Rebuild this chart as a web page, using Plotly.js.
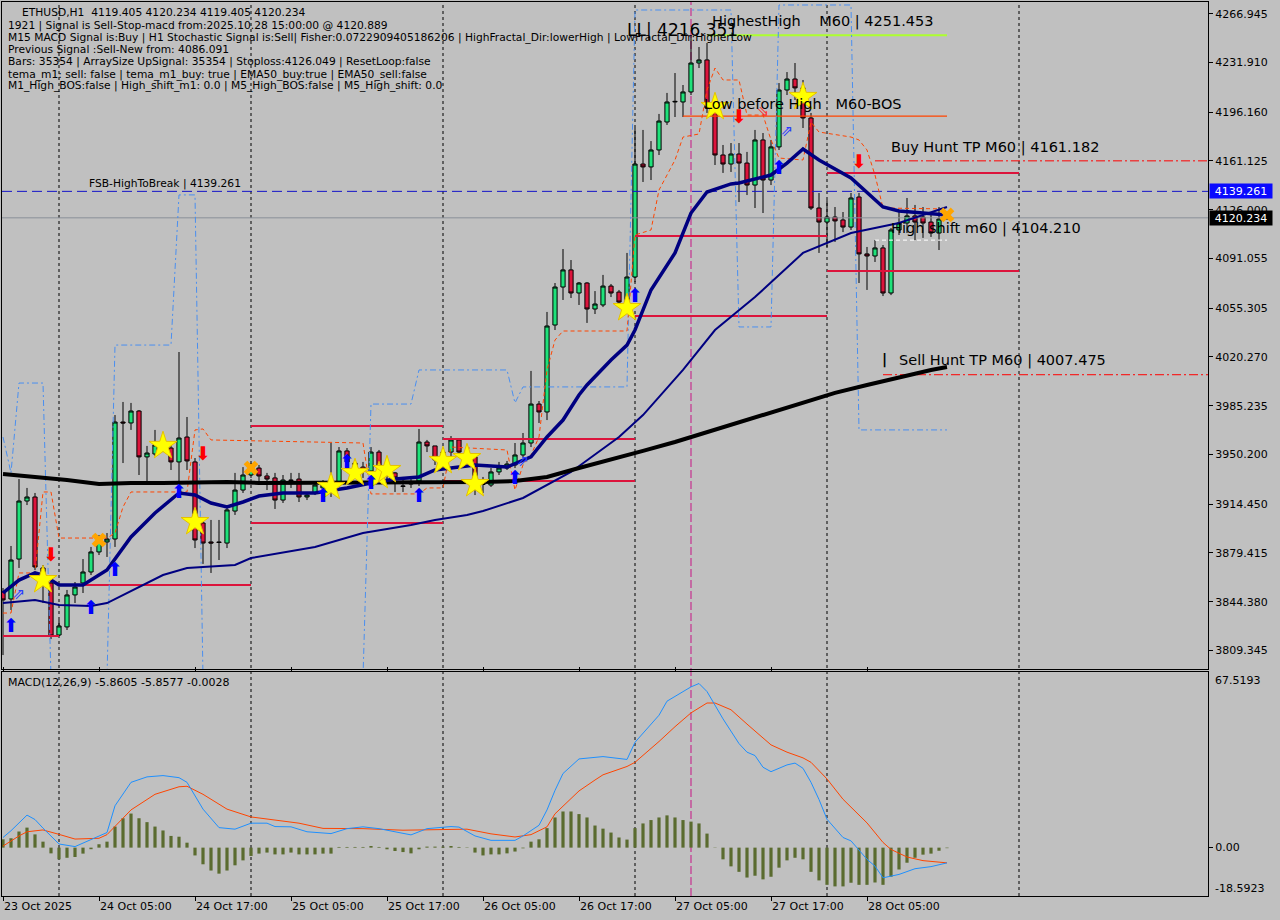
<!DOCTYPE html>
<html><head><meta charset="utf-8">
<script src="https://cdn.plot.ly/plotly-3.0.1.min.js"></script>
<style>html,body{margin:0;padding:0;background:#c0c0c0;}#chart{width:1280px;height:920px;}</style>
</head><body><div id="chart"></div>
<script>
// ---------- price data (ETHUSD H1, bar 0 = 23 Oct 2025 17:00) ----------
const openP = [3851.3,3846.3,3875.0,3916.7,3919.6,3868.6,3857.8,3820.4,3826.2,3849.2,3857.8,3865.7,3880.1,3887.3,3889.4,3973.5,3972.8,3981.4,3948.4,3950.5,3954.8,3954.8,3944.8,3962.7,3944.8,3900.9,3887.3,3887.3,3886.5,3909.5,3924.6,3935.4,3940.4,3934.7,3933.3,3917.4,3931.8,3932.5,3919.6,3922.5,3926.1,3924.6,3930.4,3952.7,3938.3,3941.1,3938.3,3951.9,3935.4,3936.9,3927.5,3928.9,3931.1,3959.1,3956.3,3944.8,3951.9,3960.6,3951.9,3948.4,3928.9,3928.2,3937.6,3940.4,3942.6,3949.8,3958.4,3986.4,3980.7,4043.2,4070.5,4082.8,4066.2,4073.4,4054.7,4057.6,4071.2,4066.9,4059.7,4077.7,4158.9,4156.8,4169.0,4189.1,4203.5,4203.5,4210.7,4231.5,4233.7,4199.2,4165.4,4158.9,4166.1,4159.6,4143.8,4176.2,4147.4,4171.2,4212.1,4220.0,4213.6,4192.0,4127.3,4117.2,4120.8,4118.7,4113.6,4135.2,4094.3,4092.8,4098.6,4066.2,4111.5,4116.5,4121.6,4120.8,4117.2,4109.3,4119.405];
const highP = [3854.2,3884.4,3932.5,3926.1,3922.5,3870.7,3859.9,3831.2,3852.8,3858.5,3875.0,3883.7,3892.3,3893.7,3978.5,3987.9,3987.2,3982.1,3956.3,3967.8,3963.4,3957.0,4023.8,3977.1,3947.6,3903.1,3903.1,3903.1,3913.8,3936.9,3941.1,3944.0,3942.6,3936.9,3936.9,3935.4,3936.9,3936.9,3923.2,3931.1,3931.8,3958.4,3955.5,3954.8,3946.2,3944.8,3955.5,3953.4,3944.8,3937.6,3934.0,3933.3,3968.5,3960.6,3956.3,3954.8,3963.4,3962.0,3954.8,3949.8,3934.0,3940.4,3944.8,3945.5,3958.4,3965.6,4010.2,3988.6,4052.6,4073.4,4097.8,4089.9,4074.1,4074.0,4067.6,4079.2,4072.7,4068.4,4095.0,4184.8,4183.4,4175.4,4194.9,4210.0,4224.3,4215.7,4251.5,4243.0,4245.9,4200.6,4172.6,4174.0,4174.0,4167.6,4183.4,4181.2,4176.2,4217.1,4225.0,4231.5,4219.3,4195.6,4138.1,4133.0,4128.0,4124.4,4138.1,4138.1,4099.3,4104.3,4100.7,4112.9,4124.4,4134.5,4129.5,4128.0,4122.3,4128.0,4120.234];
const lowP = [3806.0,3838.4,3868.6,3913.8,3867.1,3843.4,3817.5,3819.7,3824.0,3843.4,3850.6,3863.5,3877.9,3876.5,3883.7,3944.0,3967.8,3935.4,3930.4,3949.1,3951.9,3939.0,3924.6,3939.0,3882.9,3871.5,3865.0,3874.3,3882.9,3906.7,3922.5,3933.3,3930.4,3924.6,3911.0,3915.3,3926.1,3916.0,3917.4,3921.0,3923.2,3919.6,3928.2,3939.0,3933.3,3933.3,3936.1,3937.6,3931.8,3923.2,3923.2,3926.1,3927.5,3951.9,3942.6,3940.4,3948.4,3947.6,3944.8,3921.0,3922.5,3926.8,3935.4,3939.0,3940.4,3947.6,3955.5,3972.8,3974.9,4039.6,4061.2,4062.6,4057.6,4044.7,4051.1,4056.1,4063.3,4056.1,4056.1,4074.1,4146.0,4147.4,4165.4,4187.0,4192.7,4192.7,4208.5,4227.9,4195.6,4158.2,4152.5,4153.2,4131.6,4136.6,4127.3,4123.7,4143.8,4169.0,4208.5,4204.9,4184.8,4125.9,4095.0,4099.3,4102.9,4110.0,4111.5,4073.4,4068.4,4088.5,4064.0,4064.7,4107.9,4109.3,4104.3,4105.8,4106.5,4097.1,4119.405];
const closeP = [3845.6,3874.3,3916.7,3919.6,3869.3,3865.0,3819.7,3826.9,3849.2,3854.9,3865.7,3880.1,3888.7,3889.4,3973.5,3972.8,3981.4,3948.4,3951.2,3957.0,3960.6,3944.8,3962.0,3945.5,3888.7,3886.5,3886.5,3886.9,3910.3,3924.6,3935.4,3939.7,3934.7,3932.5,3917.4,3931.8,3931.5,3919.6,3921.0,3928.2,3928.2,3929.7,3952.7,3944.8,3944.0,3938.3,3951.9,3941.9,3940.4,3933.3,3927.3,3930.4,3959.1,3956.3,3946.2,3951.9,3960.6,3951.9,3948.4,3931.8,3928.7,3937.6,3940.4,3943.3,3949.8,3958.4,3986.4,3980.7,4042.5,4070.5,4082.8,4066.2,4073.4,4054.7,4058.3,4071.2,4066.2,4059.7,4077.7,4158.9,4156.8,4169.0,4189.8,4203.5,4203.9,4210.7,4231.5,4233.7,4199.2,4165.4,4158.9,4166.1,4159.6,4143.8,4176.2,4147.4,4171.2,4212.1,4220.0,4213.6,4192.0,4127.3,4117.2,4120.8,4118.0,4113.6,4134.5,4094.3,4092.8,4098.6,4066.2,4111.5,4116.5,4121.6,4117.2,4116.5,4109.3,4119.4,4120.234];

// ---------- axis labels ----------
const xTickBars = [0,12,24,36,48,60,72,84,96,108];
const xTickText = ['23 Oct 2025','24 Oct 05:00','24 Oct 17:00','25 Oct 05:00','25 Oct 17:00','26 Oct 05:00','26 Oct 17:00','27 Oct 05:00','27 Oct 17:00','28 Oct 05:00'];
const daySepBars = [7,31,55,79,103,127];
const markBar = 86;
const yTickVals = [4266.945,4231.910,4196.160,4161.125,4126.000,4091.055,4055.305,4020.270,3985.235,3950.200,3914.450,3879.415,3844.380,3809.345];

// ---------- moving averages / bands ----------
const ema200Bars = [0,4,8,12,16,20,24,28,32,36,40,44,48,52,56,60,64,68,72,76,80,84,88,92,96,100,104,108,112,116,118];
const ema200 = [3936.1,3934.0,3931.8,3928.9,3929.7,3929.7,3930.4,3930.4,3929.7,3929.7,3929.7,3929.7,3929.7,3929.7,3930.4,3930.4,3931.1,3934.0,3940.4,3946.2,3952.7,3959.1,3966.3,3973.5,3980.7,3987.9,3994.4,4000.1,4005.8,4010.9,4013.0];
const fastBars = [0,2,4,5,7,10,13,16,19,22,24,26,28,30,32,35,39,43,46,49,52,54,57,59,63,66,68,70,72,73,76,78,79,80,81,84,86,88,91,92,96,98,100,102,106,110,112,115,118];
const fastMA = [3850.6,3859.9,3865.0,3863.5,3856.4,3856.4,3867.1,3890.9,3908.1,3922.5,3921.0,3915.3,3912.4,3916.0,3920.3,3922.5,3922.5,3926.1,3929.7,3932.5,3934.0,3939.0,3941.1,3942.6,3941.1,3948.4,3962.7,3974.9,3992.9,4000.1,4018.1,4028.8,4039.6,4054.0,4068.4,4095.0,4123.7,4138.8,4144.6,4145.3,4151.0,4159.6,4169.7,4161.8,4148.9,4128.0,4125.1,4123.7,4122.3];
const slowBars = [0,4,7,11,13,17,20,23,29,31,37,39,45,51,54,58,60,65,71,77,80,85,89,94,100,106,112,118];
const slowMA = [3843.4,3845.6,3842.0,3841.3,3843.4,3854.9,3863.5,3868.6,3870.7,3875.7,3881.5,3883.7,3893.7,3899.5,3903.1,3906.7,3909.5,3918.9,3937.6,3962.7,3978.5,4010.9,4039.6,4063.3,4095.0,4109.3,4116.5,4128.0];
const bandBars = [0,1,2,4,5,6,7,13,14,15,16,23,24,25,26,45,46,52,53,55,56,63,64,65,66,67,68,69,70,78,79,81,82,83,84,85,87,88,89,90,92,93,95,96,97,100,101,102,106,107,108,109,110,118];
const bandVals = [3836.2,3836.2,3865.0,3865.0,3923.2,3923.2,3890.1,3890.1,3893.7,3912.4,3923.2,3923.2,3967.8,3968.5,3960.6,3958.4,3921.8,3921.8,3926.1,3926.1,3955.5,3953.4,3924.6,3942.6,3949.8,3962.7,4010.9,4032.4,4038.9,4038.9,4107.9,4111.5,4140.2,4151.0,4161.8,4178.3,4180.5,4212.1,4227.9,4219.3,4219.3,4194.1,4194.1,4176.2,4163.2,4161.8,4189.1,4181.9,4178.3,4176.2,4169.0,4151.0,4127.3,4126.6];
const chanBars = [0,1,2,5,6,13,14,21,22,24,25,45,46,51,52,63,64,65,78,79,91,92,96,97,106,107,118];
const chanVals = [3962.7,3936.9,4001.5,4001.5,3790,3790,4028.8,4028.8,4136.7,4136.7,3790,3790,3986.4,3986.4,4010.9,4010.9,3987.2,3998.7,3998.7,4269.6,4269.6,4041.8,4041.8,4273.2,4273.2,3967.8,3967.8];

// ---------- daily levels ----------
const levelStart = [0,7,31,31,55,55,79,79,103,103];
const levelEnd = [7,31,55,55,79,79,103,103,127,127];
const levelValue = [3819.7,3856.4,3970.6,3900.9,3961.3,3931.1,4107.2,4049.7,4152.5,4082.0];

// ---------- signal levels ----------
const fsbLevel = 4139.261, lastPrice = 4120.234, buyTP = 4161.182, sellTP = 4007.475;
const highestHigh = 4251.453, lowBeforeHigh = 4193.4, highShift = 4104.210;

// ---------- signal markers ----------
const starBars = [5,20,24,41,44,47,48,55,58,59,78,89,100];
const starPrice = [3859.9,3956.3,3901.6,3926.8,3936.9,3934.7,3939.0,3945.5,3947.6,3928.9,4055.4,4199.9,4207.1];
const upBars = [1,11,14,22,40,43,46,52,64,79,97];
const upPrice = [3826.2,3839.1,3866.4,3922.5,3919.6,3944.0,3928.9,3919.6,3932.5,4063.3,4155.3];
const downBars = [6,25,92,107];
const downPrice = [3877.2,3949.8,4192.0,4159.6];
const crossBars = [12,31,118];
const crossPrice = [3888.7,3940.4,4122.3];
const hollowUpBars = [2,65,98];
const hollowUpPrice = [3849.2,3944.8,4181.9];
const hollowDnBars = [95];
const hollowDnPrice = [4196.3];

// ---------- MACD(12,26,9) ----------
const macdHist = [3.2,3.6,6.2,7.7,5.1,2.3,-2.2,-4.5,-3.9,-3.6,-2.3,-0.6,1.3,2.3,8.1,11.3,13.1,11.3,9.8,8.1,6.6,4.5,4.2,1.9,-3.0,-6.4,-8.8,-10.0,-8.8,-6.8,-4.9,-3.2,-2.3,-1.9,-2.6,-2.6,-1.9,-2.6,-2.6,-2.6,-2.3,-2.3,0.26,0.26,0.26,0.26,0.64,0.26,-0.64,-1.3,-1.7,-2.2,-0.64,0.39,0.39,0.39,0.64,0.26,0.13,-1.9,-3.0,-2.6,-2.6,-2.2,-1.5,-0.26,2.3,3.2,7.5,11.6,13.9,13.9,12.9,11.6,8.5,7.3,5.8,3.9,3.1,7.5,9.3,10.6,11.6,12.4,11.6,10.6,10.0,9.3,5.4,-0.1,-4.5,-7.2,-9.3,-11.5,-10.8,-12.2,-11.2,-7.7,-4.9,-3.9,-4.5,-9.3,-12.6,-14.3,-14.9,-14.9,-13.5,-14.3,-14.3,-13.4,-14.3,-11.2,-8.4,-5.8,-3.9,-2.7,-2.3,-1.2,-0.2];
const macdBars = [0,1,3,4,5,7,9,11,13,14,16,18,20,22,23,25,27,29,31,33,34,36,38,41,43,45,47,50,51,53,56,57,59,61,64,65,67,68,69,70,72,75,78,79,82,83,85,86,87,88,90,92,93,94,95,96,98,99,100,101,102,103,105,106,108,109,110,112,114,116,118];
const macdMain = [3.9,6.5,12.5,10.8,7.5,1.4,0.4,3.0,5.8,16.1,25.1,27.2,27.7,26.9,25.1,14.8,7.7,7.1,9.4,9.4,8.1,8.0,6.1,5.4,7.3,8.0,7.3,5.5,4.9,7.3,8.1,7.9,4.5,2.8,2.8,4.5,8.6,14.5,22.0,28.5,34.1,35.0,33.9,40.5,50.9,56.3,59.9,61.8,63.1,60.0,49.5,40.0,36.7,35.4,30.9,29.2,31.8,32.5,30.5,25.1,18.5,10.9,3.9,2.6,-4.5,-7.1,-11.6,-10.3,-8.1,-7.3,-5.8605];
const sigBars = [0,2,3,5,7,9,12,13,16,19,22,23,25,28,31,34,37,40,45,50,55,58,61,64,66,68,69,72,74,75,78,79,82,84,86,88,89,91,93,96,98,100,101,103,105,108,110,111,113,115,118];
const macdSignal = [0.6,4.5,6.1,6.8,5.1,3.3,3.6,5.0,14.5,20.5,23.4,23.6,20.5,14.8,11.8,10.7,9.4,7.4,7.3,6.7,7.1,7.1,5.3,4.1,5.0,8.0,13.0,21.8,26.0,28.0,31.2,32.8,40.8,46.5,51.8,55.6,55.6,53.0,47.5,39.5,36.7,34.5,32.8,26.4,18.6,9.5,2.0,-0.7,-3.6,-5.0,-5.8577];
const macdLastHist = -0.0028;
const macdMax = 67.5193, macdMin = -18.5923;

// ================= build =================
const FONT = 'DejaVu Sans';
const bars = openP.map((_, i) => i);
const XMAX = 151;
const W = 1280, H = 920, ML = 2, MR = 72, MT = 2, MB = 24;
const PW = W - ML - MR, PH = H - MT - MB;
const px = (x) => (x - ML) / PW;
const py = (y) => (H - MB - y) / PH;

function hline(x0, x1, v) { return {x: [x0, x1], y: [v, v]}; }
const traces = [];

traces.push({
  type: 'candlestick', x: bars, open: openP, high: highP, low: lowP, close: closeP,
  increasing: {line: {color: '#000000', width: 1}, fillcolor: '#1fe27a'},
  decreasing: {line: {color: '#000000', width: 1}, fillcolor: '#dc143c'},
  whiskerwidth: 0, hoverinfo: 'skip', showlegend: false, xaxis: 'x', yaxis: 'y'
});

// daily levels
const lvX = [], lvY = [];
levelStart.forEach((s, i) => { lvX.push(s, levelEnd[i], null); lvY.push(levelValue[i], levelValue[i], null); });
traces.push({type: 'scatter', mode: 'lines', x: lvX, y: lvY, line: {color: '#dc143c', width: 2}, hoverinfo: 'skip', xaxis: 'x', yaxis: 'y'});

// signal lines
const addLine = (seg, color, width, dash) => traces.push({type: 'scatter', mode: 'lines', x: seg.x, y: seg.y, line: {color: color, width: width, dash: dash}, hoverinfo: 'skip', xaxis: 'x', yaxis: 'y'});
addLine(hline(-2, XMAX, lastPrice), '#8a9099', 1, 'solid');
addLine(hline(-2, XMAX, fsbLevel), '#1414c8', 1, '10px,5px');
addLine(hline(109, XMAX, buyTP), '#ff0000', 1, '9px,3px,2px,3px');
addLine(hline(110, XMAX, sellTP), '#ff0000', 1, '9px,3px,2px,3px');
addLine(hline(88, 118, highestHigh), '#adff2f', 2, 'solid');
addLine(hline(85, 118, lowBeforeHigh), '#ff4500', 1.3, 'solid');
addLine(hline(109, 118, highShift), '#ffffff', 1, '4px,3px');

// bands
traces.push({type: 'scatter', mode: 'lines', x: chanBars, y: chanVals, line: {color: '#4a8ff0', width: 1, dash: '6px,3px,2px,3px'}, hoverinfo: 'skip', xaxis: 'x', yaxis: 'y'});
traces.push({type: 'scatter', mode: 'lines', x: bandBars, y: bandVals, line: {color: '#ff4500', width: 1, dash: '4px,3px'}, hoverinfo: 'skip', xaxis: 'x', yaxis: 'y'});
// MAs
traces.push({type: 'scatter', mode: 'lines', x: slowBars, y: slowMA, line: {color: '#000080', width: 2}, hoverinfo: 'skip', xaxis: 'x', yaxis: 'y'});
traces.push({type: 'scatter', mode: 'lines', x: ema200Bars, y: ema200, line: {color: '#000000', width: 4}, hoverinfo: 'skip', xaxis: 'x', yaxis: 'y'});
traces.push({type: 'scatter', mode: 'lines', x: fastBars, y: fastMA, line: {color: '#000080', width: 3.5}, hoverinfo: 'skip', xaxis: 'x', yaxis: 'y'});

// markers
traces.push({type: 'scatter', mode: 'markers', x: starBars, y: starPrice, marker: {symbol: 'star', size: 21, color: '#ffff00', line: {color: '#e6c200', width: 1}}, hoverinfo: 'skip', xaxis: 'x', yaxis: 'y'});
traces.push({type: 'scatter', mode: 'text', x: upBars, y: upPrice, text: upBars.map(() => '⬆'), textfont: {family: FONT, size: 19, color: '#0000ff'}, hoverinfo: 'skip', xaxis: 'x', yaxis: 'y'});
traces.push({type: 'scatter', mode: 'text', x: downBars, y: downPrice, text: downBars.map(() => '⬇'), textfont: {family: FONT, size: 19, color: '#ff0000'}, hoverinfo: 'skip', xaxis: 'x', yaxis: 'y'});
traces.push({type: 'scatter', mode: 'text', x: hollowUpBars, y: hollowUpPrice, text: hollowUpBars.map(() => '⇗'), textfont: {family: FONT, size: 15, color: '#2a3cff'}, hoverinfo: 'skip', xaxis: 'x', yaxis: 'y'});
traces.push({type: 'scatter', mode: 'text', x: hollowDnBars, y: hollowDnPrice, text: hollowDnBars.map(() => '⇘'), textfont: {family: FONT, size: 15, color: '#ff3030'}, hoverinfo: 'skip', xaxis: 'x', yaxis: 'y'});
traces.push({type: 'scatter', mode: 'markers', x: crossBars, y: crossPrice, marker: {symbol: 'x', size: 13, color: '#ffa500', line: {width: 0}}, hoverinfo: 'skip', xaxis: 'x', yaxis: 'y'});

// MACD
traces.push({type: 'bar', x: bars, y: macdHist, width: 0.4, marker: {color: '#5a6b2f', line: {width: 0}}, hoverinfo: 'skip', xaxis: 'x', yaxis: 'y2'});
traces.push({type: 'scatter', mode: 'lines', x: sigBars, y: macdSignal, line: {color: '#ff4500', width: 1}, hoverinfo: 'skip', xaxis: 'x', yaxis: 'y2'});
traces.push({type: 'scatter', mode: 'lines', x: macdBars, y: macdMain, line: {color: '#1e90ff', width: 1}, hoverinfo: 'skip', xaxis: 'x', yaxis: 'y2'});

// ---------- shapes ----------
const shapes = daySepBars.map(b => ({type: 'line', xref: 'x', yref: 'paper', x0: b, x1: b, y0: 0, y1: 1, line: {color: '#000000', width: 1, dash: '3px,3px'}, layer: 'below'}));
shapes.push({type: 'line', xref: 'x', yref: 'paper', x0: markBar, x1: markBar, y0: 0, y1: 1, line: {color: '#c71585', width: 1, dash: '8px,3px'}, layer: 'below'});

// ---------- annotations ----------
const ann = [];
const last = openP.length - 1;
const hdr = [
  ['ETHUSD,H1  ' + openP[last].toFixed(3) + ' ' + highP[last].toFixed(3) + ' ' + lowP[last].toFixed(3) + ' ' + closeP[last].toFixed(3), 21, 12.7],
  ['1921 | Signal is Sell-Stop-macd from:2025.10.28 15:00:00 @ 4120.889', 7, 25.5],
  ['M15 MACD Signal is:Buy | H1 Stochastic Signal is:Sell| Fisher:0.0722909405186206 | HighFractal_Dir:lowerHigh | LowFractal_Dir:HigherLow', 7, 37.7],
  ['Previous Signal :Sell-New from: 4086.091', 7, 49.9],
  ['Bars: 35354 | ArraySize UpSignal: 35354 | Stoploss:4126.049 | ResetLoop:false', 7, 61.9],
  ['tema_m1: sell: false | tema_m1_buy: true | EMA50_buy:true | EMA50_sell:false', 7, 74],
  ['M1_High_BOS:false | High_shift_m1: 0.0 | M5_High_BOS:false | M5_High_shift: 0.0', 7, 86]
];
hdr.forEach(h => ann.push({xref: 'paper', yref: 'paper', x: px(h[1]), y: py(h[2]), xanchor: 'left', yanchor: 'middle', text: h[0], showarrow: false, font: {family: FONT, size: 10.7, color: '#000'}, borderpad: 0}));
ann.push({xref: 'paper', yref: 'paper', x: px(7), y: py(682), xanchor: 'left', yanchor: 'middle',
  text: 'MACD(12,26,9) ' + macdMain[macdMain.length-1].toFixed(4) + ' ' + macdSignal[macdSignal.length-1].toFixed(4) + ' ' + macdLastHist.toFixed(4),
  showarrow: false, font: {family: FONT, size: 11, color: '#000'}, borderpad: 0});

const NB = '\u00a0';
const lvlText = (text, xPix, level, yshift, size) => ann.push({xref: 'paper', yref: 'y', x: px(xPix), y: level, xanchor: 'left', yanchor: 'bottom', yshift: yshift, text: text, showarrow: false, font: {family: FONT, size: size, color: '#000'}, borderpad: 0});
lvlText('FSB-HighToBreak | ' + fsbLevel.toFixed(3), 88, fsbLevel, 0, 10.7);
lvlText('Buy Hunt TP M60 | ' + buyTP.toFixed(3), 890, buyTP, 4, 14.5);
lvlText('Sell Hunt TP M60 | ' + sellTP.toFixed(3), 898, sellTP, 5, 14.5);
lvlText('High shift m60 | ' + highShift.toFixed(3), 890, highShift, 2, 14.5);
lvlText('HighestHigh' + NB+NB+NB+NB + 'M60 | ' + highestHigh.toFixed(3), 711, highestHigh, 4, 14.5);
lvlText('Low before High' + NB+NB+NB + 'M60-BOS', 703, lowBeforeHigh, 3, 14.5);
ann.push({xref: 'paper', yref: 'paper', x: px(626), y: py(30), xanchor: 'left', yanchor: 'middle', text: 'LL| 4216.351', showarrow: false, font: {family: FONT, size: 17, color: '#000'}, borderpad: 0});
ann.push({xref: 'paper', yref: 'paper', x: px(881), y: py(359), xanchor: 'left', yanchor: 'middle', text: '<b>|</b>', showarrow: false, font: {family: FONT, size: 14, color: '#000'}, borderpad: 0});

// price boxes on axis
const priceBox = (v, bg) => ann.push({xref: 'paper', yref: 'y', x: 1, y: v, xanchor: 'left', yanchor: 'middle', xshift: 1, text: v.toFixed(3), showarrow: false, bgcolor: bg, width: 62, height: 14, borderpad: 0, font: {family: FONT, size: 11, color: '#ffffff'}});
priceBox(fsbLevel, '#0a0aff');
priceBox(lastPrice, '#000000');
// MACD scale labels
ann.push({xref: 'paper', yref: 'paper', x: 1, y: py(680), xanchor: 'left', yanchor: 'middle', xshift: 6, text: macdMax.toFixed(4), showarrow: false, font: {family: FONT, size: 11, color: '#000'}, borderpad: 0});
ann.push({xref: 'paper', yref: 'paper', x: 1, y: py(888), xanchor: 'left', yanchor: 'middle', xshift: 6, text: macdMin.toFixed(4), showarrow: false, font: {family: FONT, size: 11, color: '#000'}, borderpad: 0});

// ---------- layout ----------
const mainBottom = py(669), macdTop = py(672);
const layout = {
  width: W, height: H, margin: {l: ML, r: MR, t: MT, b: MB},
  paper_bgcolor: '#c0c0c0', plot_bgcolor: '#c0c0c0', showlegend: false,
  font: {family: FONT, size: 11, color: '#000'},
  boxgap: 0.25,
  xaxis: {domain: [0, 1], range: [-0.125, 150.625], anchor: 'y2', tickmode: 'array', tickvals: xTickBars, ticktext: xTickText,
    ticks: 'outside', ticklen: 4, tickcolor: '#000', showline: true, linecolor: '#000', linewidth: 1, mirror: 'all',
    showgrid: false, zeroline: false, ticklabelposition: 'outside right', tickfont: {family: FONT, size: 11, color: '#000'},
    rangeslider: {visible: false}, fixedrange: true},
  yaxis: {domain: [mainBottom, 1], range: [3795.98, 4275.35], side: 'right', anchor: 'x', tickmode: 'array', tickvals: yTickVals,
    ticktext: yTickVals.map(v => v.toFixed(3)), ticks: 'outside', ticklen: 4, tickcolor: '#000', showline: true, mirror: true,
    linecolor: '#000', showgrid: false, zeroline: false, tickfont: {family: FONT, size: 11, color: '#000'}, fixedrange: true},
  yaxis2: {domain: [0, macdTop], range: [macdMin, macdMax], side: 'right', anchor: 'x', tickmode: 'array', tickvals: [0], ticktext: ['0.00'],
    ticks: 'outside', ticklen: 4, tickcolor: '#000', showline: true, mirror: true, linecolor: '#000', showgrid: false, zeroline: false,
    tickfont: {family: FONT, size: 11, color: '#000'}, fixedrange: true},
  shapes: shapes, annotations: ann
};
Plotly.newPlot('chart', traces, layout, {displayModeBar: false, staticPlot: true});
</script></body></html>
